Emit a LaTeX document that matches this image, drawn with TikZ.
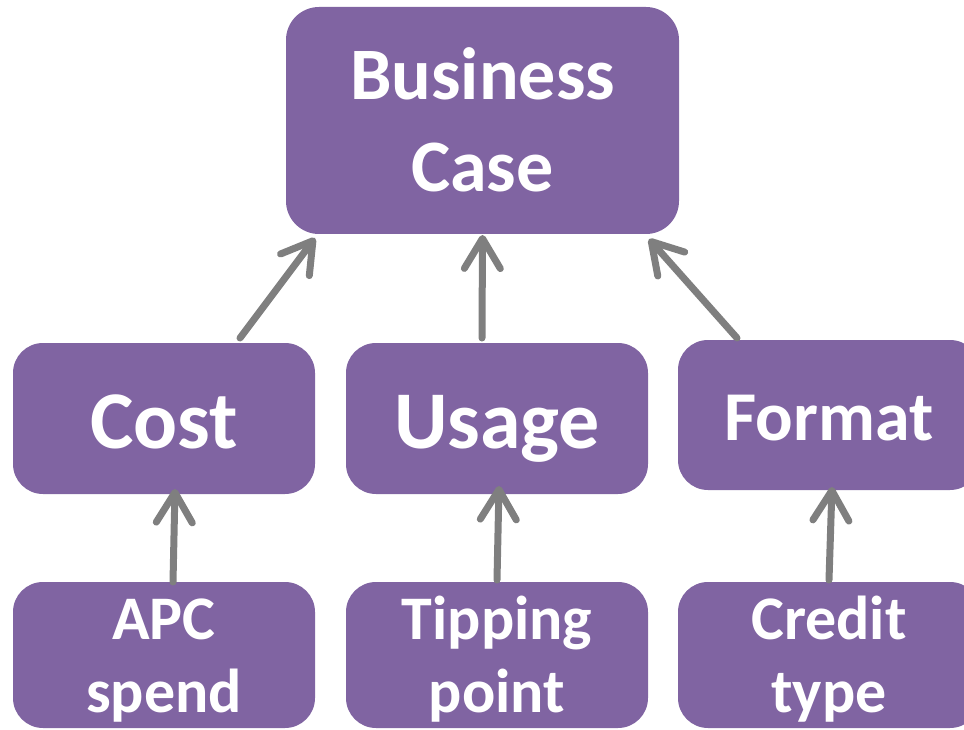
\documentclass[tikz,border=0pt]{standalone}
\usepackage{fontspec}
\setmainfont{Carlito}
\usepackage[rgb]{xcolor}
\usepackage{tikz}
\usetikzlibrary{arrows.meta}
\definecolor{boxpurple}{HTML}{8064A2}
\definecolor{arrowgray}{HTML}{7F7F7F}

\begin{document}
\begin{tikzpicture}[x=1pt, y=-1pt,
  box/.style = {draw=none, fill=boxpurple, text=white, rounded corners=30pt,
    inner sep=0pt, outer sep=0pt, minimum width=302pt, align=center},
  upconn/.style = {draw=arrowgray, line width=7pt, line cap=round,
    -{Straight Barb[length=30pt, width=36pt, round]}}
]

\useasboundingbox (0,0) rectangle (964,730);

% top box
\node[box, minimum width=393pt, rounded corners=33pt, text height=185pt, text depth=42pt,
  font=\bfseries\fontsize{74}{92}\selectfont] (businesscase) at (482.5,120.5) {Business\\Case};

% middle row
\node[box, text height=105pt, text depth=46pt, font=\bfseries\fontsize{82}{98}\selectfont]
  (cost) at (164,418.5) {Cost};
\node[box, text height=105pt, text depth=46pt, font=\bfseries\fontsize{82}{98}\selectfont]
  (usage) at (497,418.5) {Usage};
\node[box, text height=100pt, text depth=50pt, font=\bfseries\fontsize{70}{84}\selectfont]
  (format) at (829,415) {Format};

% bottom row, cut off by the page
\node[box, text height=130pt, text depth=16pt, font=\bfseries\fontsize{62}{73}\selectfont]
  (apc) at (164,655) {APC\\spend};
\node[box, text height=130pt, text depth=16pt, font=\bfseries\fontsize{62}{73}\selectfont]
  (tipping) at (497,655) {Tipping\\point};
\node[box, text height=130pt, text depth=16pt, font=\bfseries\fontsize{62}{73}\selectfont]
  (credit) at (829,655) {Credit\\type};

%% arrows up to the business case
\draw[upconn] ([xshift=76pt,yshift=5pt]cost.north) -- ([xshift=29pt,yshift=-4pt]businesscase.south west);
\draw[upconn] ([xshift=-15pt,yshift=5pt]usage.north) -- ([yshift=-1pt]businesscase.south);
\draw[upconn] ([xshift=-92pt,yshift=2pt]format.north) -- ([xshift=-30pt,yshift=-5pt]businesscase.south east);

%% arrows from the bottom row
\draw[upconn] ([xshift=9pt]apc.north) -- ([xshift=11pt,yshift=5pt]cost.south);
\draw[upconn] ([yshift=2pt]tipping.north) -- ([xshift=2pt,yshift=8pt]usage.south);
\draw[upconn] ([yshift=2pt]credit.north) -- ([xshift=3pt,yshift=3pt]format.south);

\end{tikzpicture}
\end{document}
